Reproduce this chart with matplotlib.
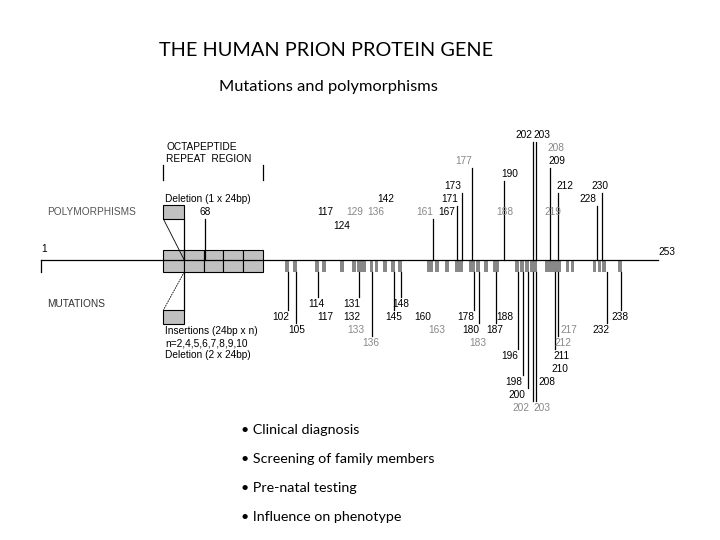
import matplotlib
matplotlib.use("Agg")
import matplotlib.pyplot as plt
from matplotlib.patches import Rectangle

# ---- data ----
gene_start, gene_end = 1, 253
octa_edges = [51, 59.5, 67.7, 75.5, 83.7, 91.7]
stripes = [101.5, 104.8, 113.7, 116.6, 124, 128.9, 131.3, 133, 136, 138, 141.5, 144.8,
           147.6, 159.9, 162.8, 166.9, 170.9, 172.6, 177, 179.5, 182.8, 186.9, 195.4,
           197.5, 199.5, 202, 203, 208, 210, 212, 216, 218, 227, 229, 231, 237.5]
wide_stripes = [131.3, 159.9, 177, 186.9, 202, 208, 210, 212]
poly_labels = ["68", "117", "129", "136", "124", "142", "161", "167", "171", "173", "177",
               "190", "188", "202", "203", "208", "209", "212", "219", "228", "230"]
poly_codons = [68, 117, 129, 136, 124, 142, 161, 167, 171, 173, 177, 190, 188, 202, 203,
               208, 209, 212, 219, 228, 230]
poly_label_x = [205, 325, 355, 376, 342, 386, 425, 447, 450, 453, 464, 510, 505, 524, 542,
                556, 557, 565, 553, 588, 600]
poly_label_y = [212, 212, 212, 212, 226, 199, 212, 212, 199, 186, 161, 174, 212, 135, 135,
                148, 161, 186, 212, 199, 186]
poly_line = [1, 0, 0, 0, 0, 0, 1, 0, 1, 1, 1, 1, 0, 1, 1, 0, 1, 1, 0, 1, 1]
poly_grey = [0, 0, 1, 1, 0, 0, 1, 0, 0, 0, 1, 0, 1, 0, 0, 1, 0, 0, 1, 0, 0]

mut_labels = ["102", "105", "114", "117", "131", "132", "133", "136", "145", "148", "160",
              "163", "178", "180", "183", "187", "188", "196", "198", "200", "202", "203",
              "208", "210", "211", "212", "217", "232", "238"]
mut_codons = [102, 105, 114, 117, 131, 132, 133, 136, 145, 148, 160, 163, 178, 180, 183,
              187, 188, 196, 198, 200, 202, 203, 208, 210, 211, 212, 217, 232, 238]
mut_label_x = [281, 297, 316, 325, 352, 352, 356, 371, 394, 401, 423, 437, 466, 471, 478,
               495, 505, 510, 514, 517, 521, 542, 547, 560, 561, 563, 569, 601, 620]
mut_label_y = [317, 330, 304, 317, 304, 317, 330, 343, 317, 304, 317, 330, 317, 330, 343,
               330, 317, 356, 382, 395, 408, 408, 382, 369, 356, 343, 330, 330, 317]
mut_line = [1, 1, 1, 0, 1, 0, 0, 1, 1, 1, 0, 0, 1, 1, 0, 1, 0, 1, 1, 1, 1, 1, 0, 0, 1, 1, 0, 1, 1]
mut_grey = [0, 0, 0, 0, 0, 0, 1, 1, 0, 0, 0, 1, 0, 0, 1, 0, 0, 0, 0, 0, 1, 1, 0, 0, 0, 1, 1, 0, 0]

bullets = ["Clinical diagnosis", "Screening of family members", "Pre-natal testing",
           "Influence on phenotype"]

# ---- drawing ----
PX = 617 / 252.0
def cx(px):  # pixel x -> codon scale
    return 1 + (px - 41) / PX

fig = plt.figure(figsize=(7.2, 5.4), dpi=100)
ax = fig.add_axes([0, 0, 1, 1])
ax.set_xlim(cx(0), cx(720))
ax.set_ylim(540, 0)
ax.axis("off")

sans = ["Liberation Sans", "DejaVu Sans"]
title_font = ["Lato", "DejaVu Sans"]
fs = 7.3
grey = "#888888"

ax.text(cx(326), 50, "THE HUMAN PRION PROTEIN GENE", ha="center", va="center",
        fontsize=14.3, family=title_font)
ax.text(cx(328), 87, "Mutations and polymorphisms", ha="center", va="center",
        fontsize=11.8, family=title_font)

ax.plot([gene_start, gene_end], [260, 260], color="black", lw=0.9)
ax.plot([gene_start, gene_start], [260, 272], color="black", lw=0.9)
ax.text(gene_start, 254, "1", fontsize=fs, family=sans, ha="left", va="bottom")
ax.text(gene_end, 252, "253", fontsize=fs, family=sans, ha="left", va="center")

for s in stripes:
    w = 2.6 if s in wide_stripes else 1.4
    ax.add_patch(Rectangle((s - w / 2, 260), w, 12, color="#888888", lw=0))

for a, b in zip(octa_edges[:-1], octa_edges[1:]):
    ax.add_patch(Rectangle((a, 250), b - a, 22, facecolor="#c0c0c0", edgecolor="black", lw=0.8))
a, b = octa_edges[0], octa_edges[1]
ax.add_patch(Rectangle((a, 205), b - a, 14, facecolor="#c0c0c0", edgecolor="black", lw=0.8))
ax.add_patch(Rectangle((a, 310), b - a, 14, facecolor="#c0c0c0", edgecolor="black", lw=0.8))
ax.plot([a, b], [219, 260], color="black", lw=0.6)
ax.plot([b, b], [219, 260], color="black", lw=0.9)
ax.plot([b, a], [272, 310], color="black", lw=0.6, ls=(0, (2, 1)))
ax.plot([b, b], [272, 310], color="black", lw=0.9)
ax.plot([a, a], [165, 180], color="black", lw=0.9)
ax.plot([octa_edges[-1]] * 2, [165, 180], color="black", lw=0.9)
ax.text(cx(166), 153, "OCTAPEPTIDE\nREPEAT  REGION", fontsize=fs, family=sans, va="center",
        linespacing=1.15)
ax.text(cx(165), 199, "Deletion (1 x 24bp)", fontsize=fs, family=sans, va="center")
ax.text(cx(47), 212, "POLYMORPHISMS", fontsize=fs, family=sans, va="center", color="#555555")
ax.text(cx(47), 304, "MUTATIONS", fontsize=fs, family=sans, va="center", color="#333333")
ax.text(cx(165), 343, "Insertions (24bp x n)\nn=2,4,5,6,7,8,9,10\nDeletion (2 x 24bp)",
        fontsize=fs, family=sans, va="center", linespacing=1.2)

for lab, c, lx, ly, hl, g in zip(poly_labels, poly_codons, poly_label_x, poly_label_y,
                                 poly_line, poly_grey):
    if hl:
        ax.plot([c, c], [260, ly + 7], color="black", lw=0.9)
    ax.text(cx(lx), ly, lab, fontsize=fs, family=sans, ha="center", va="center",
            color=grey if g else "black")

for lab, c, lx, ly, hl, g in zip(mut_labels, mut_codons, mut_label_x, mut_label_y,
                                 mut_line, mut_grey):
    if hl:
        ax.plot([c, c], [272, ly - 7], color="black", lw=0.9)
    ax.text(cx(lx), ly, lab, fontsize=fs, family=sans, ha="center", va="center",
            color=grey if g else "black")

for i, t in enumerate(bullets):
    ax.text(cx(241), 430 + 29 * i, "\u2022 " + t, fontsize=10.3, family=title_font, va="center")

fig.savefig("out.png", dpi=100)
